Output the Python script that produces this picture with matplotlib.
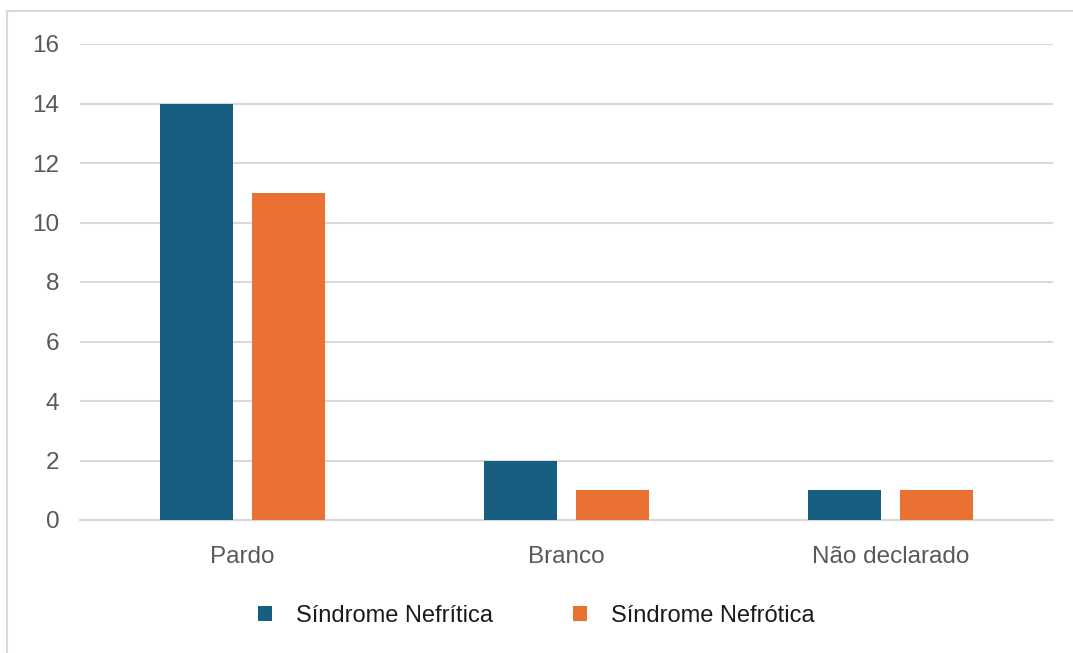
import numpy as np
import matplotlib.pyplot as plt
from matplotlib.patches import Rectangle

plt.rcParams['font.family'] = ['Liberation Sans', 'DejaVu Sans']

categories = ['Pardo', 'Branco', 'Não declarado']
nefritica = [14, 2, 1]
nefrotica = [11, 1, 1]
series_names = ['Síndrome Nefrítica', 'Síndrome Nefrótica']
colors = ['#175e81', '#e97232']

fig = plt.figure(figsize=(10.73, 6.53), dpi=100)
ax = fig.add_axes([80 / 1073, 1 - 520 / 653, 973 / 1073, 476 / 653])

# outer chart frame (only left and top edges visible)
fig.patches.append(Rectangle((7 / 1073, -0.1), 1.2, 1.1 - 11 / 653,
                             transform=fig.transFigure, fill=False,
                             edgecolor='#d9d9d9', linewidth=1.5))

x = np.arange(len(categories))
w = 0.225
ax.bar(x - 0.142, nefritica, w, color=colors[0], label=series_names[0], zorder=3)
ax.bar(x + 0.142, nefrotica, w, color=colors[1], label=series_names[1], zorder=3)

ax.set_xlim(-0.5, len(categories) - 0.5)
ax.set_ylim(0, 16)
ax.set_yticks(range(0, 17, 2))
ax.set_xticks(x)
ax.set_xticklabels(categories)
ax.grid(axis='y', color='#d9d9d9', linewidth=1.5, zorder=0)
for s in ['top', 'right', 'left']:
    ax.spines[s].set_visible(False)
ax.spines['bottom'].set_color('#d9d9d9')
ax.spines['bottom'].set_linewidth(1.5)
ax.tick_params(axis='both', length=0, labelsize=17.5, labelcolor='#595959')
ax.tick_params(axis='y', pad=15)
ax.tick_params(axis='x', pad=19)

ax.legend(loc='center', bbox_to_anchor=(536 / 1073, 1 - 616 / 653),
          bbox_transform=fig.transFigure, ncol=2, frameon=False,
          fontsize=17, handlelength=0.6, handleheight=0.6,
          columnspacing=3.4, handletextpad=1.0, labelcolor='#1a1a1a')

fig.savefig('out.png', dpi=100, facecolor='white')
